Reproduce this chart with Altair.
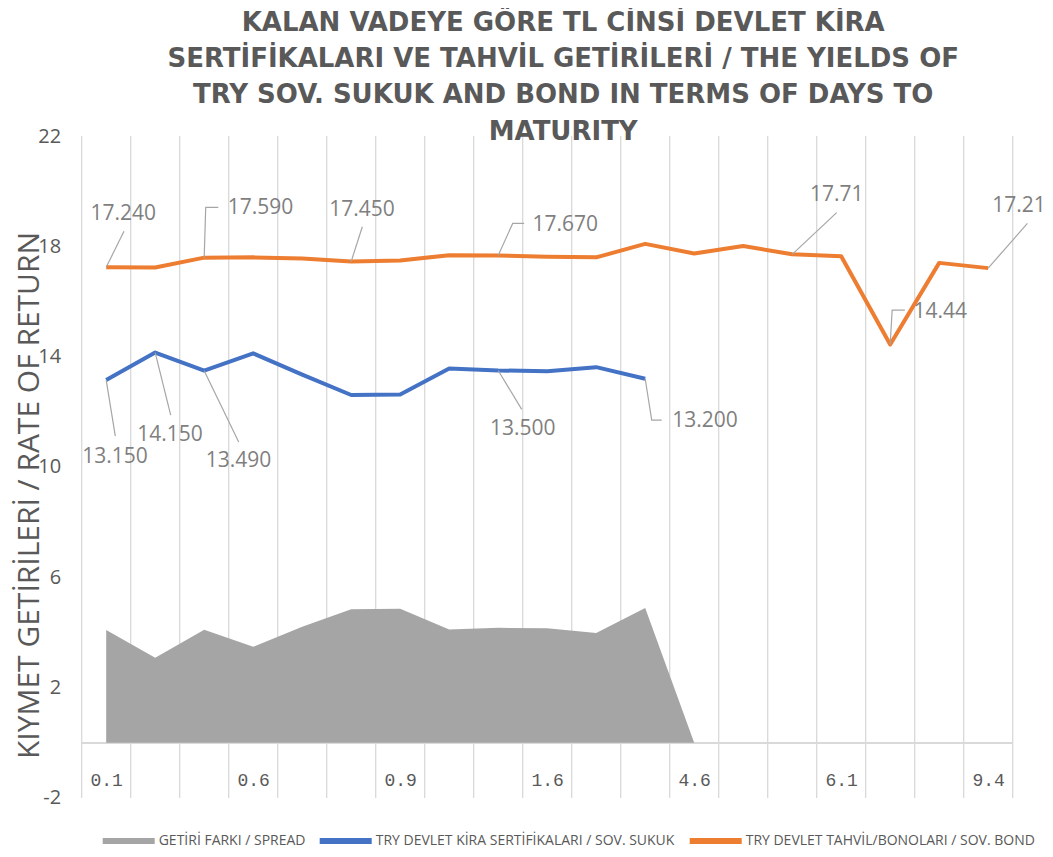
import altair as alt
import pandas as pd

# ---------------- data ----------------
categories = ["0.1", "0.3", "0.4", "0.6", "0.7", "0.8", "0.9", "1.1", "1.3", "1.6",
              "2.1", "3.3", "4.6", "5.0", "5.6", "6.1", "7.0", "8.2", "9.4"]
shown_idx = [0, 3, 6, 9, 12, 15, 18]

bond = [17.24, 17.23, 17.59, 17.60, 17.56, 17.45, 17.49, 17.68, 17.67, 17.62,
        17.60, 18.09, 17.74, 18.01, 17.71, 17.64, 14.44, 17.40, 17.21]
sukuk = [13.15, 14.15, 13.49, 14.12, 13.35, 12.61, 12.63, 13.57, 13.50, 13.47,
         13.62, 13.20]
spread = [4.09, 3.08, 4.10, 3.48, 4.21, 4.84, 4.86, 4.11, 4.17, 4.15, 3.98, 4.89, 0.0]

series_names = ["GETİRİ FARKI / SPREAD",
                "TRY DEVLET KİRA SERTİFİKALARI / SOV. SUKUK",
                "TRY DEVLET TAHVİL/BONOLARI / SOV. BOND"]
series_colors = ["#A5A5A5", "#4472C4", "#ED7D31"]

label_series = ["bond"] * 7 + ["sukuk"] * 5
label_index = [0, 2, 5, 8, 14, 16, 18, 0, 1, 2, 8, 11]
label_text = ["17.240", "17.590", "17.450", "17.670", "17.71", "14.44", "17.21",
              "13.150", "14.150", "13.490", "13.500", "13.200"]

# label placement (data units) - layout only
label_pos_x = [0.35, 3.15, 5.22, 9.37, 14.91, 17.02, 18.63, 0.18, 1.30, 2.70, 8.50, 12.22]
label_pos_y = [19.19, 19.38, 19.31, 18.77, 19.86, 15.63, 19.48, 10.38, 11.17, 10.21, 11.37, 11.66]
leader_bends = [
    [(0.363, 18.55)],
    [(2.031, 19.41), (2.288, 19.41)],
    [(5.227, 18.71)],
    [(8.296, 18.83), (8.53, 18.83)],
    [(14.908, 19.22)],
    [(16.04, 15.69), (16.30, 15.69)],
    [(18.80, 18.83)],
    [(0.186, 11.12)],
    [(1.316, 11.88)],
    [(2.704, 10.91)],
    [(8.48, 12.09)],
    [(11.133, 11.70), (11.337, 11.70)],
]

y_ticks = [-2, 2, 6, 10, 14, 18, 22]

# ---------------- tables ----------------
lines_df = pd.DataFrame(
    [{"x": i, "v": v, "series": series_names[2]} for i, v in enumerate(bond)]
    + [{"x": i, "v": v, "series": series_names[1]} for i, v in enumerate(sukuk)]
)
area_df = pd.DataFrame([{"x": i, "v": v, "series": series_names[0]} for i, v in enumerate(spread)])

values_by = {"bond": bond, "sukuk": sukuk}
lab_rows, lead_rows = [], []
for k, (s, idx, t) in enumerate(zip(label_series, label_index, label_text)):
    lab_rows.append({"x": label_pos_x[k], "v": label_pos_y[k], "text": t})
    pts = [(idx, values_by[s][idx])] + leader_bends[k]
    for step, (px, py) in enumerate(pts):
        lead_rows.append({"id": k, "step": step, "x": px, "v": py})
labels_df = pd.DataFrame(lab_rows)
leaders_df = pd.DataFrame(lead_rows)
grid_df = pd.DataFrame({"x": [i - 0.5 for i in range(len(categories) + 1)]})

# ---------------- encodings ----------------
GRAY = "#595959"
xscale = alt.Scale(domain=[-0.5, len(categories) - 0.5], nice=False, zero=False)
yscale = alt.Scale(domain=[-2, 22], nice=False, zero=False)

label_expr = "[" + ",".join("'%s'" % c for c in categories) + "][datum.value]"
xaxis = alt.Axis(values=shown_idx, labelExpr=label_expr, title=None, domain=False,
                 ticks=False, grid=False, offset=-55.2, labelPadding=29,
                 labelFont="Liberation Mono", labelFontSize=18, labelColor=GRAY)
yaxis = alt.Axis(values=y_ticks, labelExpr="'' + datum.value",
                 title="KIYMET GETİRİLERİ / RATE OF RETURN", domain=False,
                 ticks=False, grid=False, labelPadding=21, labelFont="Open Sans",
                 labelFontSize=20, labelColor=GRAY, titleFont="Open Sans", titleFontSize=30,
                 titleFontWeight="normal", titleColor=GRAY, titleX=-52, titleY=359,
                 titleAlign="center", titleBaseline="middle")


def X(field="x"):
    return alt.X(f"{field}:Q", scale=xscale, axis=xaxis)


def Y(field="v"):
    return alt.Y(f"{field}:Q", scale=yscale, axis=yaxis)


legend = alt.Legend(title=None, orient="none", legendX=18, legendY=676, direction="horizontal",
                    symbolType="stroke", symbolSize=2704, symbolStrokeWidth=6,
                    labelFont="Open Sans", labelFontSize=14, labelColor=GRAY,
                    labelLimit=500, labelOffset=1, columnPadding=2)
color = alt.Color("series:N", scale=alt.Scale(domain=series_names, range=series_colors),
                  legend=legend)

grid = alt.Chart(grid_df).mark_rule(color="#D9D9D9", strokeWidth=1.3).encode(x=X())
zero = alt.Chart(grid_df).mark_rule(color="#D9D9D9", strokeWidth=1.5).encode(
    y=alt.Y("z:Q", scale=yscale, axis=yaxis)).transform_calculate(z="0")

lines = alt.Chart(lines_df).mark_line(strokeWidth=4, strokeJoin="round").encode(
    x=X(), y=Y(), color=color)
area = alt.Chart(area_df).mark_area(opacity=1).encode(x=X(), y=Y(), color=color)
leaders = alt.Chart(leaders_df).mark_line(color="#A6A6A6", strokeWidth=1.2).encode(
    x=X(), y=Y(), detail="id:N", order="step:Q")
texts = alt.Chart(labels_df).mark_text(font="Open Sans", fontSize=21, color="#7F7F7F",
                                       align="center", baseline="middle").encode(
    x=X(), y=Y(), text="text:N")

chart = alt.layer(grid, zero, lines, area, leaders, texts).properties(
    width=931, height=662,
    autosize=alt.AutoSizeParams(type="none"),
    padding={"left": 73.7, "top": 128, "right": 32, "bottom": 51},
    title=alt.TitleParams(
        text=["KALAN VADEYE GÖRE TL CİNSİ DEVLET KİRA",
              "SERTİFİKALARI VE TAHVİL GETİRİLERİ / THE YIELDS OF",
              "TRY SOV. SUKUK AND BOND IN TERMS OF DAYS TO",
              "MATURITY"],
        font="DejaVu Sans", fontSize=26, fontWeight="bold", color=GRAY,
        lineHeight=36.5, anchor="middle", dx=16, offset=-19),
).configure_view(stroke=None)

chart.save("out.html", embed_options={"renderer": "svg", "actions": False})
